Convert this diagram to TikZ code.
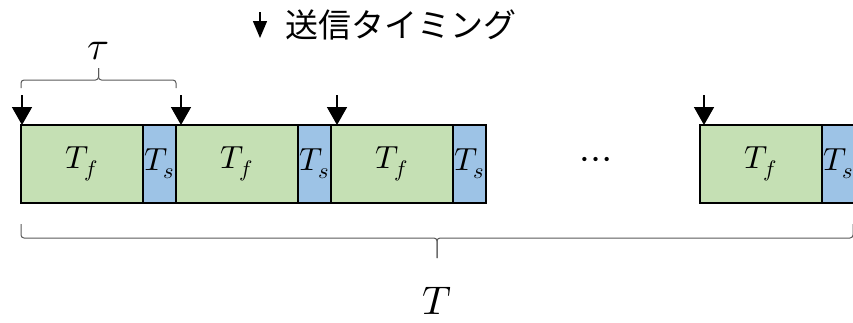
\documentclass[tikz,border=0pt]{standalone}
\usepackage{fontspec}
\usepackage{unicode-math}
\newfontfamily\jpfont{Noto Sans CJK JP}
\usetikzlibrary{arrows.meta, positioning, calc}

\definecolor{slotgreen}{HTML}{C5E0B4}
\definecolor{slotblue}{HTML}{9DC3E6}

\begin{document}
\begin{tikzpicture}[
  x=1pt, y=-1pt,
  node distance = 0pt,
  slot/.style  = {draw=black, line width=1.4pt, minimum height=78pt,
                  inner sep=0pt, outer sep=0pt, anchor=north west,
                  font=\fontsize{32}{34}\selectfont},
  fslot/.style = {slot, fill=slotgreen, minimum width=122pt},
  sslot/.style = {slot, fill=slotblue, minimum width=33pt},
  tick/.style  = {-{Triangle[width=20pt, length=18pt]}, line width=1.6pt},
  brc/.style   = {line width=1pt, draw=black!65, rounded corners=3pt},
  lbl/.style   = {font=\fontsize{40}{44}\selectfont}
]
\useasboundingbox (0,0) rectangle (853,322);

%% ---- legend ----
\coordinate (legtop) at (260,12);
\coordinate (legtip) at (260,38);
\draw[-{Triangle[width=14pt, length=17pt]}, line width=1.4pt] (legtop) -- (legtip);
\node[font=\jpfont\fontsize{33}{36}\selectfont, anchor=west] (legend) at (282,25) {送信タイミング};

%% ---- frames ----
\node[fslot] (f1) at (21,125) {$T_f$};
\node[sslot, right=of f1] (s1) {$T_s$};
\node[fslot, right=of s1] (f2) {$T_f$};
\node[sslot, right=of f2] (s2) {$T_s$};
\node[fslot, right=of s2] (f3) {$T_f$};
\node[sslot, right=of f3] (s3) {$T_s$};

\node[lbl] (dots) at (596,163) {$\cdots$};

\node[fslot] (f4) at (700,125) {$T_f$};
\node[sslot, right=of f4] (s4) {$T_s$};

%% ---- send timings ----
\coordinate (t1) at ([xshift=1pt, yshift=30pt]f1.north west);
\coordinate (t2) at ([xshift=5pt, yshift=30pt]f2.north west);
\coordinate (t3) at ([xshift=6pt, yshift=30pt]f3.north west);
\coordinate (t4) at ([xshift=4pt, yshift=30pt]f4.north west);
\draw[tick] (t1) -- ([xshift=1pt]f1.north west);
\draw[tick] (t2) -- ([xshift=5pt]f2.north west);
\draw[tick] (t3) -- ([xshift=6pt]f3.north west);
\draw[tick] (t4) -- ([xshift=4pt]f4.north west);

%% ---- braces ----
% tau: one period
\coordinate (al) at ([yshift=37pt]f1.north west);
\coordinate (ar) at ([yshift=37pt]f2.north west);
\coordinate (atip) at ($(al)!0.5!(ar)+(0,-20)$);
\draw[brc] (al) -- ++(0,-8) -| (atip);
\draw[brc] (ar) -- ++(0,-8) -| (atip);
\node[lbl, above=4pt of atip] (tau) {$\tau$};

% T: whole span
\coordinate (bl) at ([yshift=-21pt]f1.south west);
\coordinate (br) at (853,224);
\coordinate (btip) at ($(bl)!0.5!(br)+(0,34)$);
\draw[brc] (bl) -- ++(0,14) -| (btip);
\draw[brc] (br) -- ++(0,14) -| (btip);
\node[lbl, inner sep=0pt, below=29pt of btip] (total) {$T$};
\end{tikzpicture}
\end{document}
